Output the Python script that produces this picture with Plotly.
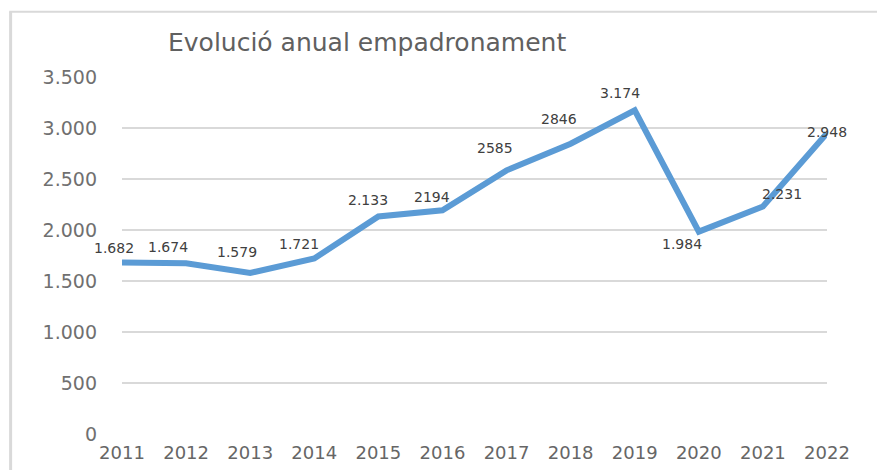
import plotly.graph_objects as go

years = [2011, 2012, 2013, 2014, 2015, 2016, 2017, 2018, 2019, 2020, 2021, 2022]
values = [1682, 1674, 1579, 1721, 2133, 2194, 2585, 2846, 3174, 1984, 2231, 2948]
labels = ["1.682", "1.674", "1.579", "1.721", "2.133", "2194", "2585", "2846",
          "3.174", "1.984", "2.231", "2.948"]
y_ticks = [0, 500, 1000, 1500, 2000, 2500, 3000, 3500]
title_text = "Evolució anual empadronament"

# label offsets in pixels (style only)
label_dx = [-8, -18, -13, -15, -10, -10, -12, -12, -15, -17, 19, 0]
label_dy = [14, 16, 21, 14, 16, 13, 22, 25, 17, -12, 12, 1]

FONT = "DejaVu Sans"

fig = go.Figure()
fig.add_trace(go.Scatter(
    x=years, y=values, mode="lines",
    line=dict(color="#5B9BD5", width=6),
    hoverinfo="skip", showlegend=False,
))

for x, y, t, dx, dy in zip(years, values, labels, label_dx, label_dy):
    fig.add_annotation(x=x, y=y, text=t, showarrow=False,
                       xshift=dx, yshift=dy, xanchor="center", yanchor="middle",
                       font=dict(family=FONT, size=14, color="#404040"))

# outer chart frame
fig.add_shape(type="line", xref="paper", yref="paper",
              x0=-0.158, x1=-0.158, y0=1.183, y1=-0.2,
              line=dict(color="#D9D9D9", width=3), layer="below")
fig.add_shape(type="line", xref="paper", yref="paper",
              x0=-0.16, x1=1.2, y0=1.183, y1=1.183,
              line=dict(color="#D9D9D9", width=2), layer="below")

fig.update_layout(
    width=877, height=470,
    margin=dict(l=122, r=50, t=77, b=36, autoexpand=False),
    paper_bgcolor="white", plot_bgcolor="white",
    separators=",.",
    title=dict(text=title_text, x=168 / 877, xanchor="left",
               y=1 - 42 / 470, yanchor="middle",
               font=dict(family=FONT, size=25, color="#606060")),
    xaxis=dict(range=[2011, 2022], tickvals=years, ticktext=[str(y) for y in years],
               showgrid=False, zeroline=False, showline=False, ticks="",
               tickfont=dict(family=FONT, size=18, color="#666666"),
               ticklabelstandoff=6, automargin=False, fixedrange=True),
    yaxis=dict(range=[0, 3500], tickvals=y_ticks, tickformat=",d",
               showgrid=True, gridcolor="#D9D9D9", gridwidth=1.5,
               zeroline=False, showline=False, ticks="",
               tickfont=dict(family=FONT, size=19, color="#707070"),
               ticklabelstandoff=24, automargin=False, fixedrange=True),
)

fig.write_html(
    "out.html",
    config={"displayModeBar": False},
    post_script="document.body.style.margin='0';document.body.style.overflow='hidden';",
)
